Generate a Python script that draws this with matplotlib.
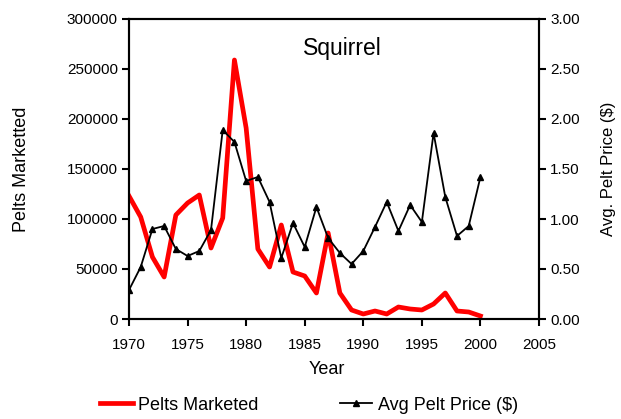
import matplotlib.pyplot as plt
from matplotlib.ticker import FormatStrFormatter

plt.rcParams['font.family'] = ['Liberation Sans', 'DejaVu Sans']

# Data
years = list(range(1970, 2001))
pelts = [123000, 102000, 62000, 42000, 104000, 116000, 124000, 71000, 101000, 259000,
         191000, 70000, 52000, 94000, 47000, 43000, 26000, 86000, 26000, 9000,
         5000, 8000, 5000, 12000, 10000, 9000, 15000, 26000, 8000, 7000, 3000]
price = [0.29, 0.52, 0.90, 0.93, 0.70, 0.63, 0.68, 0.89, 1.89, 1.77,
         1.38, 1.42, 1.17, 0.61, 0.96, 0.72, 1.12, 0.81, 0.66, 0.55,
         0.68, 0.92, 1.17, 0.88, 1.14, 0.97, 1.86, 1.22, 0.83, 0.93, 1.42]

fig = plt.figure(figsize=(6.21, 4.19), dpi=100)
ax = fig.add_axes([129 / 621, 100 / 419, 410 / 621, 300 / 419])
ax2 = ax.twinx()

l1, = ax.plot(years, pelts, color='red', linewidth=3.4)
l2, = ax2.plot(years, price, color='black', linewidth=1.3, marker='^', markersize=4.5)

ax.set_xlim(1970, 2005)
ax.set_ylim(0, 300000)
ax2.set_ylim(0, 3.0)
ax.set_xticks(range(1970, 2006, 5))
ax.set_yticks(range(0, 300001, 50000))
ax2.set_yticks([0, 0.5, 1.0, 1.5, 2.0, 2.5, 3.0])
ax2.yaxis.set_major_formatter(FormatStrFormatter('%.2f'))

for a in (ax, ax2):
    for s in a.spines.values():
        s.set_linewidth(1.5)
    a.tick_params(direction='out', length=5, width=1.5, labelsize=11, pad=3)
ax.tick_params(axis='x', pad=9)

ax.set_xlabel('Year', fontsize=13)
ax.set_ylabel('Pelts Marketted', fontsize=13)
ax2.set_ylabel('Avg. Pelt Price ($)', fontsize=12)
ax.xaxis.set_label_coords(0.483, -0.167)
ax.xaxis.label.set_va('center')
ax.yaxis.set_label_coords(-0.261, 0.5)
ax.yaxis.label.set_va('center')
ax2.yaxis.set_label_coords(1.17, 0.5)
ax2.yaxis.label.set_va('center')

ax.text(0.52, 0.9, 'Squirrel', transform=ax.transAxes, ha='center', va='center', fontsize=16.5)

fig.legend([l1, l2], ['Pelts Marketed', 'Avg Pelt Price ($)'], loc='center',
           bbox_to_anchor=(0.4976, 0.033), ncol=2, frameon=False, fontsize=13,
           handlelength=1.8, handletextpad=0.3, columnspacing=4.5)

fig.savefig('out.png', dpi=100)
